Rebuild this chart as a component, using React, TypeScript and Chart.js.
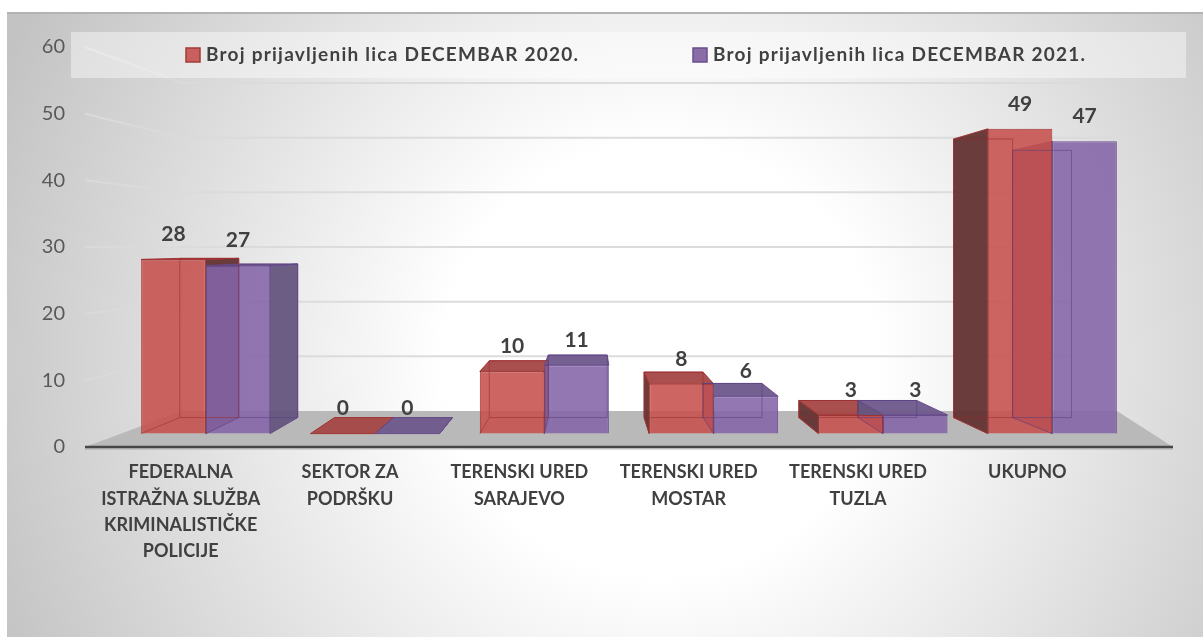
import React, { useEffect, useRef } from 'react';
import { Chart, registerables } from 'chart.js';

Chart.register(...registerables);

// ---------- data ----------
const categories: string[][] = [
  ['FEDERALNA', 'ISTRAŽNA SLUŽBA', 'KRIMINALISTIČKE', 'POLICIJE'],
  ['SEKTOR ZA', 'PODRŠKU'],
  ['TERENSKI URED', 'SARAJEVO'],
  ['TERENSKI URED', 'MOSTAR'],
  ['TERENSKI URED', 'TUZLA'],
  ['UKUPNO'],
];
const series2020 = [28, 0, 10, 8, 3, 49];
const series2021 = [27, 0, 11, 6, 3, 47];
const seriesNames = [
  'Broj prijavljenih lica DECEMBAR 2020.',
  'Broj prijavljenih lica DECEMBAR 2021.',
];
const yMin = 0;
const yMax = 60;
const yStep = 10;

// ---------- styling ----------
const FONT = 'Lato, "Open Sans", sans-serif';
const VP_X = 590; // perspective vanishing x
const BACK = 0.914; // bar depth factor
const WALL = 0.82; // back wall depth factor
const FRONT = 0.933; // bar front plane factor
const FLOOR_OUT = 36;
const WALL_IN_L = 61;
const WALL_IN_R = -20;
const LEGEND_TEXT_W = 372;

const STYLES = [
  {
    front: 'rgba(198,80,77,0.88)',
    border: 'rgba(160,50,48,0.95)',
    side: 'rgba(100,52,52,0.96)',
    top: 'rgba(165,72,70,0.96)',
    edge: 'rgba(150,45,45,0.55)',
    legend: '#c9605e',
    legendBorder: '#a33b39',
  },
  {
    front: 'rgba(132,100,168,0.88)',
    border: 'rgba(100,72,138,0.95)',
    side: 'rgba(102,86,128,0.96)',
    top: 'rgba(110,90,140,0.96)',
    edge: 'rgba(90,62,125,0.55)',
    legend: '#8a6ca8',
    legendBorder: '#6a4f8a',
  },
];

const ybMin = (-(yMax - yMin) / 2) * (1 - FRONT) / FRONT;
const ybMax = ybMin + (yMax - yMin) / FRONT;

const scenePlugin = {
  id: 'scene3d',
  beforeDraw(chart: any) {
    const { ctx, width, height } = chart;
    ctx.save();
    const g = ctx.createRadialGradient(660, 360, 0, 660, 360, 720);
    g.addColorStop(0, '#ffffff');
    g.addColorStop(0.3, '#ffffff');
    g.addColorStop(1, '#c3c3c3');
    ctx.fillStyle = g;
    ctx.fillRect(7, 12, width - 7, height - 12);
    ctx.strokeStyle = '#b3b3b3';
    ctx.lineWidth = 2;
    ctx.beginPath();
    ctx.moveTo(7, 13);
    ctx.lineTo(width, 13);
    ctx.stroke();
    ctx.restore();
  },
  beforeDatasetsDraw(chart: any) {
    const { ctx, chartArea } = chart;
    const y = chart.scales.y;
    const vy = y.getPixelForValue((yMin + yMax) / 2);
    const fl = chartArea.left - FLOOR_OUT;
    const fr = chartArea.right + FLOOR_OUT;
    const wl = chartArea.left + WALL_IN_L;
    const wr = chartArea.right + WALL_IN_R;
    ctx.save();
    // grid lines (left wall + back wall)
    ctx.strokeStyle = 'rgba(218,218,218,0.95)';
    ctx.lineWidth = 2;
    for (let v = yMin + yStep; v <= yMax; v += yStep) {
      const yl = y.getPixelForValue(v);
      const yw = vy + (yl - vy) * WALL;
      ctx.beginPath();
      ctx.moveTo(fl, yl);
      ctx.lineTo(wl, yw);
      ctx.lineTo(wr, yw);
      ctx.stroke();
    }
    // legend box
    ctx.fillStyle = 'rgba(255,255,255,0.42)';
    ctx.fillRect(71, 32, 1115, 46);
    // floor
    const y0 = y.getPixelForValue(yMin);
    const yw0 = vy + (y0 - vy) * WALL;
    ctx.fillStyle = '#b9b9b9';
    ctx.beginPath();
    ctx.moveTo(fl, y0);
    ctx.lineTo(wl, yw0);
    ctx.lineTo(wr, yw0);
    ctx.lineTo(fr, y0);
    ctx.closePath();
    ctx.fill();
    // axis line
    ctx.strokeStyle = '#474747';
    ctx.lineWidth = 2.5;
    ctx.beginPath();
    ctx.moveTo(fl, y0);
    ctx.lineTo(fr, y0);
    ctx.stroke();
    ctx.strokeStyle = 'rgba(120,120,120,0.5)';
    ctx.lineWidth = 1;
    ctx.beginPath();
    ctx.moveTo(fl, y0 + 2);
    ctx.lineTo(fr, y0 + 2);
    ctx.stroke();

    // 3D faces behind bar fronts
    chart.data.datasets.forEach((ds: any, di: number) => {
      const meta = chart.getDatasetMeta(di);
      const st = STYLES[di];
      meta.data.forEach((el: any) => {
        const p = el.getProps(['x', 'y', 'base', 'width'], true);
        const x0 = p.x - p.width / 2;
        const x1 = p.x + p.width / 2;
        const yt = p.y;
        const yb = p.base;
        const bx = (x: number) => VP_X + (x - VP_X) * BACK;
        const by = (yy: number) => vy + (yy - vy) * BACK;
        ctx.lineWidth = 1;
        ctx.strokeStyle = st.border;
        if (bx(x1) > x1) {
          ctx.fillStyle = st.side;
          ctx.beginPath();
          ctx.moveTo(x1, yt);
          ctx.lineTo(bx(x1), by(yt));
          ctx.lineTo(bx(x1), by(yb));
          ctx.lineTo(x1, yb);
          ctx.closePath();
          ctx.fill();
          ctx.stroke();
        }
        if (bx(x0) < x0) {
          ctx.fillStyle = st.side;
          ctx.beginPath();
          ctx.moveTo(x0, yt);
          ctx.lineTo(bx(x0), by(yt));
          ctx.lineTo(bx(x0), by(yb));
          ctx.lineTo(x0, yb);
          ctx.closePath();
          ctx.fill();
          ctx.stroke();
        }
        if (by(yt) < yt) {
          ctx.fillStyle = st.top;
          ctx.beginPath();
          ctx.moveTo(x0, yt);
          ctx.lineTo(bx(x0), by(yt));
          ctx.lineTo(bx(x1), by(yt));
          ctx.lineTo(x1, yt);
          ctx.closePath();
          ctx.fill();
          ctx.stroke();
        }
      });
    });
    ctx.restore();
  },
  afterDatasetsDraw(chart: any) {
    const { ctx } = chart;
    const y = chart.scales.y;
    const vy = y.getPixelForValue((yMin + yMax) / 2);
    ctx.save();
    chart.data.datasets.forEach((ds: any, di: number) => {
      const meta = chart.getDatasetMeta(di);
      const st = STYLES[di];
      meta.data.forEach((el: any, i: number) => {
        const p = el.getProps(['x', 'y', 'base', 'width'], true);
        const x0 = p.x - p.width / 2;
        const x1 = p.x + p.width / 2;
        const yt = p.y;
        const yb = p.base;
        const bx = (x: number) => VP_X + (x - VP_X) * BACK;
        const by = (yy: number) => vy + (yy - vy) * BACK;
        if (yb - yt > 2) {
          ctx.strokeStyle = st.edge;
          ctx.lineWidth = 1;
          ctx.beginPath();
          ctx.moveTo(x0, yb);
          ctx.lineTo(bx(x0), by(yb));
          ctx.lineTo(bx(x1), by(yb));
          ctx.moveTo(bx(x0), by(yb));
          ctx.lineTo(bx(x0), by(yt));
          ctx.moveTo(bx(x1), by(yb));
          ctx.lineTo(bx(x1), by(yt));
          ctx.moveTo(bx(x0), by(yt));
          ctx.lineTo(bx(x1), by(yt));
          ctx.stroke();
        }
        ctx.fillStyle = '#404040';
        ctx.font = `bold 21px ${FONT}`;
        ctx.textAlign = 'center';
        ctx.textBaseline = 'middle';
        ctx.fillText(String(ds.data[i]), p.x, yt - 25);
      });
    });
    // legend
    const items = [186, 693];
    ctx.textAlign = 'left';
    ctx.textBaseline = 'middle';
    ctx.font = `bold 19px ${FONT}`;
    seriesNames.forEach((name, i) => {
      const lx = items[i];
      ctx.fillStyle = STYLES[i].legend;
      ctx.fillRect(lx, 48, 14, 14);
      ctx.strokeStyle = STYLES[i].legendBorder;
      ctx.lineWidth = 1.5;
      ctx.strokeRect(lx, 48, 14, 14);
      ctx.fillStyle = '#404040';
      (ctx as any).letterSpacing = '0px';
      const w = ctx.measureText(name).width;
      const ls = Math.max(0, (LEGEND_TEXT_W - w) / (name.length - 1));
      (ctx as any).letterSpacing = `${ls}px`;
      ctx.fillText(name, lx + 20, 55);
      (ctx as any).letterSpacing = '0px';
    });
    ctx.restore();
  },
};

export default function App() {
  const canvasRef = useRef<HTMLCanvasElement | null>(null);

  useEffect(() => {
    if (!canvasRef.current) return;
    const chart = new Chart(canvasRef.current, {
      type: 'bar',
      data: {
        labels: categories,
        datasets: [
          {
            label: seriesNames[0],
            data: series2020,
            backgroundColor: STYLES[0].front,
            borderColor: STYLES[0].border,
            borderWidth: 1,
            yAxisID: 'yb',
            categoryPercentage: 0.762,
            barPercentage: 1,
          },
          {
            label: seriesNames[1],
            data: series2021,
            backgroundColor: STYLES[1].front,
            borderColor: STYLES[1].border,
            borderWidth: 1,
            yAxisID: 'yb',
            categoryPercentage: 0.762,
            barPercentage: 1,
          },
        ],
      },
      options: {
        responsive: true,
        maintainAspectRatio: false,
        animation: false,
        devicePixelRatio: 1,
        layout: { padding: { left: 42, right: 66, top: 47, bottom: 0 } },
        plugins: {
          legend: { display: false },
          tooltip: { enabled: false },
        },
        scales: {
          x: {
            offset: true,
            grid: { display: false, drawTicks: false },
            border: { display: false },
            ticks: {
              autoSkip: false,
              maxRotation: 0,
              minRotation: 0,
              labelOffset: -25,
              padding: 12,
              color: '#404040',
              font: { family: FONT, weight: 'bold', size: 18, lineHeight: 1.47 },
            },
            afterFit: (s: any) => {
              s.height = 190;
            },
          },
          y: {
            position: 'left',
            min: yMin,
            max: yMax,
            grid: { display: false, drawTicks: false },
            border: { display: false },
            ticks: {
              stepSize: yStep,
              padding: 56,
              color: '#595959',
              font: { family: FONT, size: 20 },
            },
            afterFit: (s: any) => {
              s.width = 79;
              s.paddingTop = 10;
              s.paddingBottom = 10;
            },
          },
          yb: {
            display: false,
            min: ybMin,
            max: ybMax,
            afterFit: (s: any) => {
              s.paddingTop = 0;
              s.paddingBottom = 0;
            },
          },
        },
      } as any,
      plugins: [scenePlugin],
    });
    return () => chart.destroy();
  }, []);

  return (
    <div style={{ position: 'fixed', left: 0, top: 0, width: 1203, height: 637 }}>
      <canvas ref={canvasRef} />
    </div>
  );
}
